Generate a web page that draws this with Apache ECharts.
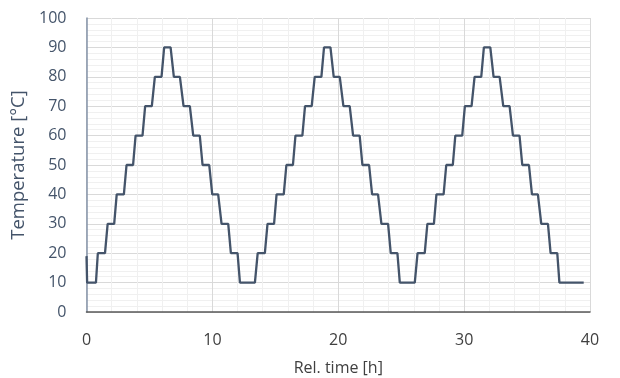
<!DOCTYPE html>
<html>
<head>
	<meta charset="utf-8" />
	<title>Temperature profile</title>
	<script src="https://cdn.jsdelivr.net/npm/echarts@6/dist/echarts.min.js"></script>
	<style>
		html, body { margin: 0; padding: 0; background: #fff; }
	</style>
</head>
<body>
	<div id="main" style="width: 620px;height: 378px;"></div>

	<script type="text/javascript">
		// plateaus: start [h], end [h], level [°C]
		var plateauStart = [0.05, 0.9, 1.68, 2.4, 3.18, 3.9, 4.66, 5.43, 6.17, 6.94, 7.71, 8.48, 9.22, 9.99, 10.73, 11.47,
			12.19, 13.6, 14.38, 15.1, 15.88, 16.6, 17.36, 18.13, 18.87, 19.64, 20.41, 21.18, 21.92, 22.69, 23.43, 24.17,
			24.89, 26.3, 27.08, 27.8, 28.58, 29.3, 30.06, 30.83, 31.57, 32.34, 33.11, 33.88, 34.62, 35.39, 36.13, 36.87, 37.57];
		var plateauEnd = [0.75, 1.47, 2.2, 2.97, 3.7, 4.45, 5.19, 5.96, 6.68, 7.42, 8.21, 9.0, 9.75, 10.46, 11.26, 12.0,
			13.38, 14.17, 14.9, 15.67, 16.4, 17.15, 17.89, 18.66, 19.38, 20.12, 20.91, 21.7, 22.45, 23.16, 23.96, 24.7,
			26.08, 26.87, 27.6, 28.37, 29.1, 29.85, 30.59, 31.36, 32.08, 32.82, 33.61, 34.4, 35.15, 35.86, 36.66, 37.4, 39.5];
		var plateauTemp = [10, 20, 30, 40, 50, 60, 70, 80, 90, 80, 70, 60, 50, 40, 30, 20,
			10, 20, 30, 40, 50, 60, 70, 80, 90, 80, 70, 60, 50, 40, 30, 20,
			10, 20, 30, 40, 50, 60, 70, 80, 90, 80, 70, 60, 50, 40, 30, 20, 10];
		var startPoint = [0, 19];

		var xTicks = [0, 10, 20, 30, 40];
		var yTicks = [0, 10, 20, 30, 40, 50, 60, 70, 80, 90, 100];

		var points = [startPoint];
		for (var i = 0; i < plateauTemp.length; i++) {
			points.push([plateauStart[i], plateauTemp[i]]);
			points.push([plateauEnd[i], plateauTemp[i]]);
		}

		var myChart = echarts.init(document.getElementById("main"), null, {renderer: 'canvas'});

		var fontFam = "'Open Sans', 'Noto Sans', sans-serif";

		var option = {
			animation: false,
			grid: {
				left: 86.5,
				right: 30,
				top: 18,
				bottom: 66,
				containLabel: false,
				outerBoundsMode: 'none'
			},
			xAxis: {
				type: 'value',
				min: xTicks[0],
				max: xTicks[xTicks.length - 1],
				interval: 10,
				name: 'Rel. time [h]',
				nameLocation: 'middle',
				nameGap: 48,
				nameTextStyle: { color: '#404040', fontSize: 16, fontFamily: fontFam },
				axisLine: { lineStyle: { color: '#595959', width: 1.5 } },
				axisTick: { show: false },
				axisLabel: { color: '#404040', fontSize: 16, fontFamily: fontFam, margin: 20 },
				splitLine: { show: true, lineStyle: { color: '#d9d9d9', width: 1 } },
				minorTick: { show: false, splitNumber: 5 },
				minorSplitLine: { show: true, lineStyle: { color: '#f0f0f0', width: 1 } }
			},
			yAxis: {
				type: 'value',
				min: yTicks[0],
				max: yTicks[yTicks.length - 1],
				interval: 10,
				name: 'Temperature [°C]',
				nameLocation: 'middle',
				nameGap: 57,
				nameTextStyle: { color: '#44546a', fontSize: 18.5, fontFamily: fontFam },
				axisLine: { show: true, lineStyle: { color: '#8493a8', width: 1.5 } },
				axisTick: { show: false },
				axisLabel: { color: '#44546a', fontSize: 16, fontFamily: fontFam, margin: 20 },
				splitLine: { show: true, lineStyle: { color: '#d9d9d9', width: 1 } },
				minorTick: { show: false, splitNumber: 5 },
				minorSplitLine: { show: true, lineStyle: { color: '#f0f0f0', width: 1 } }
			},
			series: [{
				type: 'line',
				data: points,
				showSymbol: false,
				lineStyle: { color: '#44546a', width: 2.3 },
				z: 3
			}]
		};

		myChart.setOption(option);
	</script>
</body>
</html>
